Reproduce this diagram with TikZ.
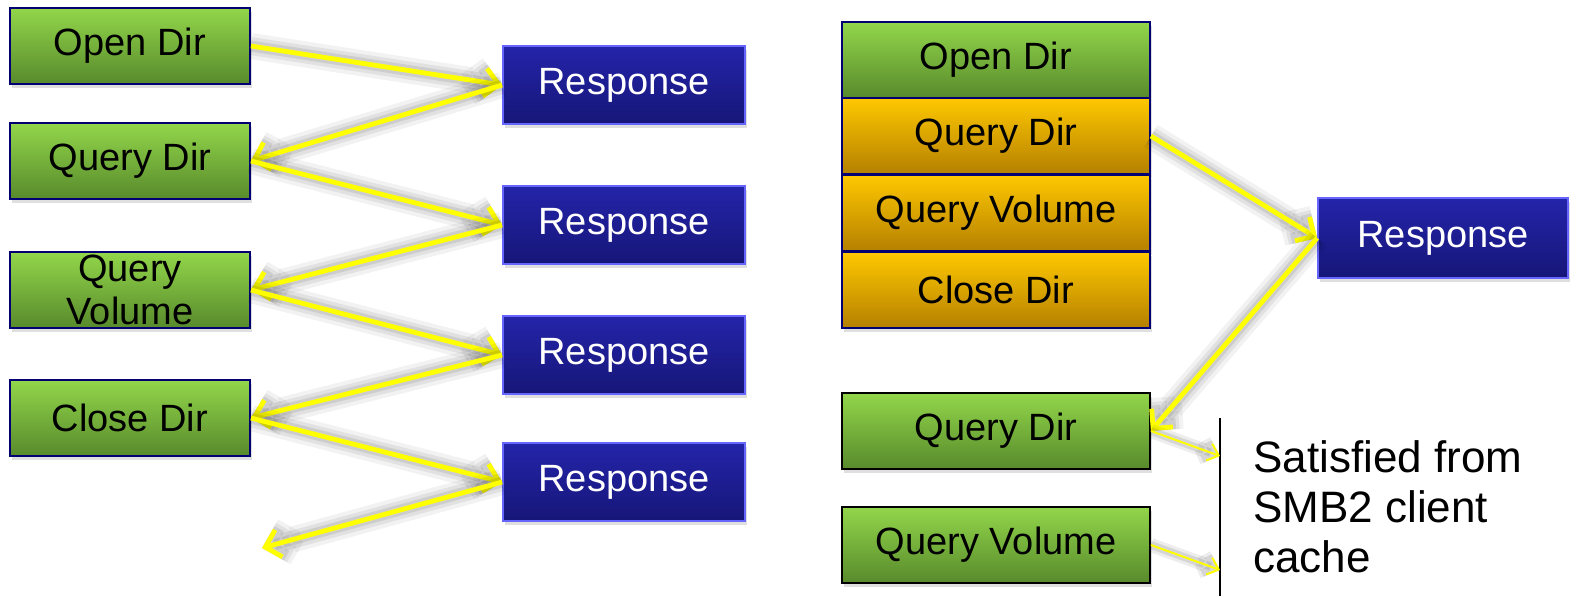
\documentclass[tikz,border=0pt]{standalone}
\usepackage{fontspec}
\setmainfont{Liberation Sans}
\usetikzlibrary{arrows.meta,shadows}

\definecolor{grtop}{RGB}{146,214,74}
\definecolor{grbot}{RGB}{88,138,44}
\definecolor{bltop}{RGB}{36,36,170}
\definecolor{blbot}{RGB}{22,22,120}
\definecolor{ortop}{RGB}{255,200,0}
\definecolor{orbot}{RGB}{180,128,0}
\definecolor{linky}{RGB}{255,255,0}

\tikzset{
  box/.style={rectangle, inner sep=0pt, line width=0.9pt,
    font=\fontsize{19}{21.5}\selectfont, drop shadow={opacity=0.25, shadow xshift=1pt, shadow yshift=-2pt}},
  greenbox/.style={box, draw=blue!45!black, top color=grtop, bottom color=grbot,
    minimum width=120pt, minimum height=38pt},
  respbox/.style={box, draw=blue!60, top color=bltop, bottom color=blbot, text=white,
    minimum width=121pt, minimum height=39pt},
  stackbox/.style={box, draw=blue!45!black, minimum width=154pt, minimum height=38pt},
  ylink/.style={draw=linky, line width=2.4pt, -{Straight Barb[length=7pt,width=14pt]},
    preaction={draw=black, opacity=0.05, line width=13pt},
    preaction={draw=black, opacity=0.07, line width=9pt},
    preaction={draw=black, opacity=0.09, line width=5.5pt}},
  thinlink/.style={draw=linky, line width=1pt, -{Straight Barb[length=5pt,width=9pt]},
    preaction={draw=black, opacity=0.07, line width=7pt},
    preaction={draw=black, opacity=0.1, line width=4pt}}
}

\begin{document}
\begin{tikzpicture}[x=0.5pt,y=-0.5pt]
    \useasboundingbox (0,0) rectangle (1577,596);

    % one request at a time
    \node[greenbox] (od) at (130,46) {Open Dir};
    \node[greenbox] (qd) at (130,161) {Query Dir};
    \node[greenbox, label={[align=center, font=\fontsize{19}{21.5}\selectfont]center:Query\\Volume}] (qv) at (130,290) {};
    \node[greenbox] (cd) at (130,418) {Close Dir};

    \node[respbox] (r1) at (624,85) {Response};
    \node[respbox] (r2) at (624,225) {Response};
    \node[respbox] (r3) at (624,355) {Response};
    \node[respbox] (r4) at (624,482) {Response};
    \coordinate (rend) at (262,548);

    \draw[ylink] (od.east) -- (r1.west);
    \draw[ylink] (r1.west) -- (qd.east);
    \draw[ylink] (qd.east) -- (r2.west);
    \draw[ylink] (r2.west) -- (qv.east);
    \draw[ylink] (qv.east) -- (r3.west);
    \draw[ylink] (r3.west) -- (cd.east);
    \draw[ylink] (cd.east) -- (r4.west);
    \draw[ylink] (r4.west) -- (rend);

    % compounded request
    \node[stackbox, top color=grtop, bottom color=grbot] (sod) at (996,60) {Open Dir};
    \node[stackbox, top color=ortop, bottom color=orbot] (sqd) at (996,136) {Query Dir};
    \node[stackbox, top color=ortop, bottom color=orbot] (sqv) at (996,213) {Query Volume};
    \node[stackbox, top color=ortop, bottom color=orbot] (scd) at (996,290) {Close Dir};

    \node[respbox, minimum width=125pt, minimum height=40pt] (sr) at (1443,238) {Response};

    \node[stackbox, draw=black, top color=grtop, bottom color=grbot] (cqd) at (996,431) {Query Dir};
    \node[stackbox, draw=black, top color=grtop, bottom color=grbot] (cqv) at (996,545) {Query Volume};

    \draw[ylink] (sqd.east) -- (sr.west);
    \draw[ylink] (sr.west) -- (cqd.east);

    \coordinate (ltop) at (1220,418);
    \coordinate (lbot) at (1220,596);
    \coordinate (hqd) at (1220,456);
    \coordinate (hqv) at (1220,570);
    \draw[line width=1pt] (ltop) -- (lbot);
    \draw[thinlink] (cqd.east) -- (hqd);
    \draw[thinlink] (cqv.east) -- (hqv);

    \node[anchor=north west, align=left, inner sep=0pt, font=\fontsize{22}{25}\selectfont] (cache) at (1253,440) {Satisfied from\\SMB2 client\\cache};
\end{tikzpicture}
\end{document}
